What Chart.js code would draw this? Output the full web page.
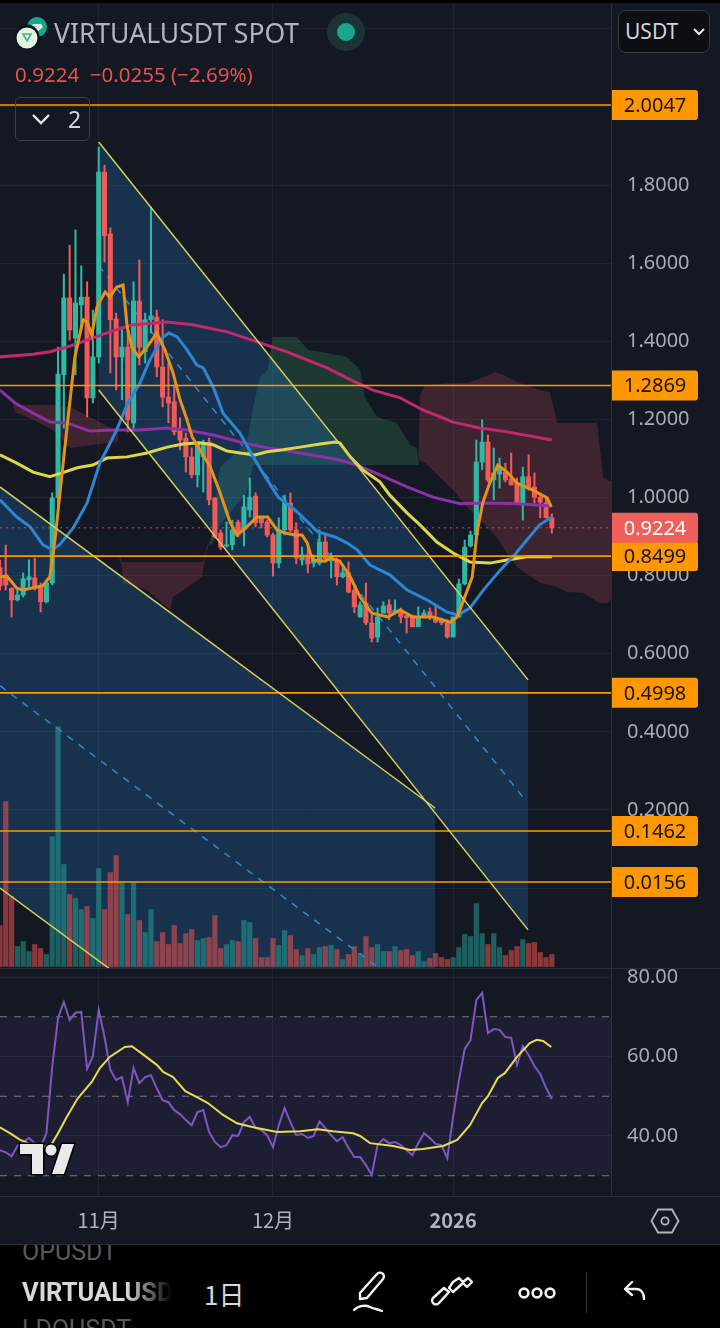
<!DOCTYPE html>
<html>
<head>
<meta charset="utf-8">
<title>VIRTUALUSDT SPOT</title>
<script src="https://cdn.jsdelivr.net/npm/chart.js@4/dist/chart.umd.min.js"></script>
<style>
html,body{margin:0;padding:0;background:#141823;width:720px;height:1328px;overflow:hidden;font-family:"Noto Sans",sans-serif}
canvas{position:absolute;left:0}
#mainCanvas{top:0}
#rsiCanvas{top:968px}
.abs{position:absolute;white-space:nowrap}
#topStrip{left:0;top:0;width:720px;height:3px;background:#000}
#title{left:54px;top:14px;font-size:26.5px;line-height:38px;color:#b2b5be}
#quote{left:15px;top:60px;font-size:20.5px;line-height:28px;color:#e5534f}
#legendBox{left:15px;top:97px;width:73px;height:42px;border:1px solid #3a3e49;border-radius:5px}
#legendNum{left:68px;top:103px;font-size:23px;line-height:32px;color:#d1d4dc}
#usdtBox{left:618px;top:10px;width:92px;height:43px;background:#0d0e12;border:1.5px solid #363a45;border-radius:8px;box-sizing:border-box}
#usdtText{left:625px;top:16px;font-size:21px;line-height:30px;color:#d1d4dc}
.hline{left:0;width:720px;height:1px;background:#2a2e39}
#toolbar{left:0;top:1245px;width:720px;height:83px;background:#000;overflow:hidden}
#prevSym{left:22px;top:-8px;font-size:25px;line-height:30px;color:#5a5a5a;font-family:Roboto,sans-serif}
#curSym{left:22px;top:31px;width:150px;overflow:hidden;font-size:25.5px;line-height:32px;font-weight:700;color:#d8d8d8;font-family:Roboto,sans-serif;-webkit-mask-image:linear-gradient(90deg,#000 70%,transparent 100%);mask-image:linear-gradient(90deg,#000 70%,transparent 100%)}
#nextSym{left:22px;top:70px;font-size:25px;line-height:30px;color:#5a5a5a;font-family:Roboto,sans-serif}
#interval{left:204px;top:31px;font-size:26px;line-height:36px;color:#d8d8d8;font-family:"Noto Sans CJK SC",sans-serif}
</style>
</head>
<body>
<canvas id="mainCanvas" width="720" height="968"></canvas>
<canvas id="rsiCanvas" width="720" height="277"></canvas>

<div class="abs" id="topStrip"></div>
<svg class="abs" style="left:12px;top:14px" width="40" height="40">
  <circle cx="25" cy="13" r="10" fill="#17a78e"/>
  <path d="M21 10h8l2 3-6 5-6-5z" fill="#d9f3ea"/>
  <circle cx="15" cy="23" r="12.5" fill="#10131b"/>
  <circle cx="15" cy="24" r="10.5" fill="#dff5df"/>
  <path d="M11 20h8l-4 7z" fill="none" stroke="#4fae8e" stroke-width="1.6"/>
</svg>
<div class="abs" id="title">VIRTUALUSDT SPOT</div>
<svg class="abs" style="left:327px;top:13px" width="38" height="38">
  <circle cx="19" cy="19" r="19" fill="#1c3336"/>
  <circle cx="19" cy="19" r="9" fill="#17a78e"/>
</svg>
<div class="abs" id="quote">0.9224&nbsp; −0.0255 (−2.69%)</div>
<div class="abs" id="legendBox"></div>
<svg class="abs" style="left:30px;top:112px" width="24" height="16">
  <path d="M3 3l8 8 8-8" fill="none" stroke="#e6e8ee" stroke-width="2.4"/>
</svg>
<div class="abs" id="legendNum">2</div>
<div class="abs" id="usdtBox"></div>
<div class="abs" id="usdtText">USDT</div>
<svg class="abs" style="left:692px;top:26px" width="14" height="12">
  <path d="M2 3l5 5 5-5" fill="none" stroke="#e6e8ee" stroke-width="2"/>
</svg>

<svg class="abs" style="left:16px;top:1139px" width="64" height="38">
  <g fill="#e9e9e9" stroke="#000" stroke-width="3" paint-order="stroke">
    <path d="M4 5h23v30h-11v-20h-12z"/>
    <circle cx="35" cy="11" r="5.5"/>
    <path d="M46 5h12l-10 30h-12z"/>
  </g>
</svg>

<div class="abs hline" style="top:968px"></div>
<div class="abs hline" style="top:1196px"></div>
<div class="abs hline" style="top:1244px;background:#2c2f38"></div>
<svg class="abs" style="left:650px;top:1207px" width="30" height="28">
  <path d="M8 2.5h14l6.5 11.5-6.5 11.5h-14l-6.5-11.5z" fill="none" stroke="#b2b5be" stroke-width="1.8"/>
  <circle cx="15" cy="14" r="3.6" fill="none" stroke="#b2b5be" stroke-width="1.8"/>
</svg>

<div class="abs" id="toolbar">
  <div class="abs" id="prevSym">OPUSDT</div>
  <div class="abs" id="curSym">VIRTUALUSDT</div>
  <div class="abs" id="nextSym">LDOUSDT</div>
  <div class="abs" id="interval">1日</div>
  <svg class="abs" style="left:350px;top:24px" width="40" height="46">
    <g fill="none" stroke="#f2f2f2" stroke-width="2.4" stroke-linejoin="round" stroke-linecap="round">
      <path d="M10 24L27 5a3.5 3.5 0 0 1 6 5L17 29l-7 1z"/>
      <path d="M4 41c5-5 12-5 16-3 5 2 10 3 12 4"/>
    </g>
  </svg>
  <svg class="abs" style="left:431px;top:30px" width="44" height="34">
    <g fill="none" stroke="#f2f2f2" stroke-width="2.4" stroke-linejoin="round" stroke-linecap="round">
      <path d="M2 23l11-10 5 4-10 11a3 3 0 0 1-6-5z"/>
      <path d="M18 13l4 4 10-9 4 4 5-5-4-4-5 4-4-4-6 4z"/>
    </g>
  </svg>
  <svg class="abs" style="left:517px;top:38px" width="40" height="20">
    <g fill="none" stroke="#f2f2f2" stroke-width="2.6">
      <circle cx="7" cy="10" r="4.4"/><circle cx="20" cy="10" r="4.4"/><circle cx="33" cy="10" r="4.4"/>
    </g>
  </svg>
  <div class="abs" style="left:586px;top:27px;width:1px;height:41px;background:#333"></div>
  <svg class="abs" style="left:622px;top:34px" width="28" height="26">
    <path d="M10 3L3 10l7 6M3 10h11c5 0 8 4 8 10" fill="none" stroke="#f2f2f2" stroke-width="2.4" stroke-linecap="round" stroke-linejoin="round"/>
  </svg>
</div>

<script>
// day 0 = 1 Nov
const firstDay = -17;
const opens = [.820,.797,.768,.738,.750,.789,.794,.771,.733,.781,.999,1.314,1.511,1.408,1.493,1.513,1.255,1.360,1.833,1.675,1.457,1.360,1.385,1.191,1.503,1.373,1.455,1.462,1.334,1.257,1.245,1.173,1.152,1.104,1.058,1.104,1.142,.999,.909,.876,.879,.937,.917,.968,1.004,.950,.937,.904,.832,.917,.986,.917,.840,.853,.832,.832,.886,.838,.840,.797,.807,.763,.694,.730,.679,.643,.704,.725,.704,.712,.697,.697,.669,.694,.707,.694,.689,.679,.643,.694,.779,.876,.904,1.091,1.142,1.045,1.060,1.065,1.047,1.037,.986,1.053,1.027,1.001,.986,.9479];
const highs = [.840,.878,.768,.768,.807,.840,.845,.781,.789,1.012,1.385,1.572,1.646,1.685,1.593,1.552,1.480,1.897,1.851,1.690,1.472,1.437,1.442,1.552,1.608,1.472,1.744,1.480,1.455,1.344,1.288,1.204,1.165,1.127,1.140,1.147,1.152,1.000,.917,.937,.942,.942,1.006,1.050,1.012,.950,.942,.909,.948,1.006,1.012,.935,.873,.878,.853,.917,.909,.858,.845,.820,.835,.771,.733,.781,.699,.717,.733,.738,.738,.717,.704,.699,.720,.712,.717,.725,.692,.687,.694,.791,.891,.914,1.147,1.199,1.160,1.127,1.101,1.088,1.114,1.050,1.078,1.109,1.063,1.006,.999,.958];
const lows = [.763,.763,.694,.735,.745,.771,.763,.707,.730,.776,.973,1.178,1.403,1.314,1.429,1.206,1.242,1.344,1.603,1.319,1.275,1.250,1.168,1.173,1.339,1.344,1.421,1.309,1.232,1.191,1.160,1.122,1.065,1.050,1.027,1.014,.981,.896,.866,.873,.866,.899,.876,.950,.925,.922,.899,.799,.820,.904,.912,.830,.827,.807,.822,.827,.835,.794,.776,.794,.756,.705,.694,.674,.630,.630,.704,.687,.704,.679,.653,.669,.669,.694,.687,.679,.674,.640,.643,.694,.776,.873,.899,1.071,1.040,.994,1.024,1.040,1.032,.986,.942,1.019,.986,.948,.948,.909];
const closes = [.774,.776,.738,.750,.792,.797,.768,.733,.781,.999,1.316,1.511,1.429,1.498,1.513,1.255,1.360,1.833,1.670,1.455,1.360,1.385,1.199,1.503,1.385,1.455,1.465,1.334,1.257,1.242,1.168,1.147,1.104,1.058,1.140,1.140,.994,.899,.873,.879,.917,.904,.976,1.001,.935,.935,.904,.832,.917,.986,.917,.845,.853,.830,.840,.886,.843,.850,.797,.807,.758,.720,.725,.679,.640,.694,.722,.704,.712,.694,.692,.669,.692,.704,.694,.681,.679,.643,.694,.779,.873,.904,1.091,1.142,1.045,1.063,1.078,1.045,1.032,.986,1.053,1.024,1.001,.988,.948,.9224];
const volumes = [4.1,16.5,7.0,2.0,2.5,1.5,2.2,1.8,1.2,13,24,10.2,7.2,6.8,5.7,6,4.8,9.8,5.7,9.4,11.1,8.5,5.2,8.4,4.6,3.4,5.7,2.5,3.4,2.2,4.1,2.3,3.3,3.7,2.6,2.8,2.9,5.1,1.8,2.2,2.6,2.5,4.6,4.4,2.8,.9,.9,2.8,2.1,3.6,3.1,1.7,1.1,1.8,1.2,1.9,2,2.1,1.7,.7,1.2,2,1.3,3,1.9,2.2,1.5,1.5,2,1.6,1.7,1.1,1.5,.5,.8,1.3,.9,.7,.9,1.9,3.2,3,6.3,3.3,2.2,3.3,1.9,1.1,1.6,2,2.7,2.3,2.4,1.4,.9,1.2];
const rsiValues = [36.4,35.9,34.9,37.5,38.5,39.5,38.2,37.2,40.7,57.4,69.7,73.7,69.2,71,71.2,56.9,60.1,71.7,64.9,56.6,54.1,54.8,48.5,57.1,53.3,54.8,55.3,52,49,48.5,46.5,45.5,44,42.7,46,46.5,41,38.5,37.2,37.7,40.2,40,43.5,44.8,42,41.5,40.2,37.2,42.7,47,43.5,40.2,40.5,39.5,40,43.7,42,40.2,38.7,39.7,37,34.7,34.7,32.7,30.2,37.7,39.2,38.2,38.5,37.7,36.4,35.2,38.2,40.7,39.5,38,37.7,34.4,44.8,54,61.9,64.1,74.2,76,65.9,66.9,66.7,64.9,64.7,57.9,62.6,60.4,57.6,55.6,52.1,49.3];

const orangeDays = [-17,-15.8,-14.1,-13,-9.6,-8.4,-7.5,-5.5,-4.1,-2.7,-2,-1.2,-.3,1.1,1.9,3.1,4.2,4.9,5.7,6.9,8.3,10,11.4,12.8,14,15.2,16.1,17.4,19.2,20.9,22.6,23.8,25.5,27.2,29.1,30.7,32.1,33.8,35,35.9,36.4,36.9,39,39.8,41.5,43.3,45,47,49.8,51.9,54.1,57.5,60.5,61.7,63,64.3,65.1,66.1,67.3,68.7,70.3,72,74.7,77.2,77.9];
const orangeLine = [.797,.799,.768,.763,.774,.797,.896,1.173,1.360,1.455,1.450,1.416,1.488,1.526,1.513,1.539,1.544,1.437,1.385,1.360,1.385,1.421,1.378,1.319,1.250,1.199,1.155,1.122,1.078,1.012,.937,.904,.925,.950,.950,.917,.909,.904,.904,.884,.858,.840,.837,.845,.837,.797,.745,.704,.694,.712,.694,.694,.681,.694,.745,.797,.909,.986,1.037,1.083,1.065,1.037,1.019,.999,.976];
const blueDays = [-17,-14.1,-11.8,-9.6,-8,-6.7,-4.4,-2,.2,3.1,5,7.1,8.8,11.1,12.1,13.5,15.2,16.9,18,19.7,21.4,24.3,26.6,29,30.9,33.8,36,37.7,40.7,42.7,44.5,46.7,50.1,53.1,56.5,59.9,61.8,63.9,66.2,69.1,71.3,73.7,75.9,78];
const blueLine = [.994,.950,.925,.879,.866,.879,.922,.986,1.088,1.173,1.242,1.293,1.352,1.411,1.421,1.411,1.378,1.339,1.332,1.283,1.216,1.165,1.104,1.045,1.001,.968,.937,.912,.899,.884,.866,.827,.802,.763,.738,.707,.699,.717,.763,.814,.848,.891,.930,.950];
const yellowDays = [-17,-14.1,-11.3,-8.4,-6.3,-3.7,-1,1.4,4.9,8.3,11.8,14.5,17.4,19.7,22.1,24.3,26.9,29,31.7,34.7,38.1,40.7,41.5,43.3,45.5,48.4,50.1,53.1,55.3,58.2,61,63.9,67.3,70.3,73.7,78];
const yellowLine = [1.109,1.088,1.065,1.053,1.063,1.076,1.083,1.101,1.104,1.114,1.129,1.137,1.140,1.135,1.119,1.114,1.109,1.117,1.122,1.129,1.137,1.142,1.140,1.104,1.070,1.040,1.006,.960,.930,.886,.858,.835,.832,.840,.848,.848];
const purpleDays = [-17,-14.4,-11.3,-8.4,-5.5,-1.5,2.5,7.1,11.8,15.2,19.7,24.3,29,34.7,41.5,44.5,48.4,53.1,57.5,62.2,66.8,72,78];
const purpleLine = [1.275,1.242,1.216,1.193,1.191,1.170,1.173,1.173,1.178,1.173,1.160,1.142,1.127,1.114,1.096,1.083,1.058,1.027,1.001,.984,.986,.984,.978];
const pinkDays = [-17,-11.3,-8.4,-5.5,-2,1.9,5.9,11.8,16.2,22.1,27.8,32.4,39.3,43.8,47.2,51.9,55.8,61,65.6,70.3,78];
const pinkLine = [1.360,1.367,1.373,1.385,1.403,1.424,1.442,1.449,1.442,1.424,1.396,1.373,1.332,1.298,1.275,1.255,1.224,1.193,1.178,1.168,1.147];

const cloudDays = [-14.75,-14.4,-11.3,-7.9,-4.9,2.8,3.3,3.6,4.0,4.2,8.3,12.3,12.8,17.8,18.3,18.6,19.5,20.9,25.5,26.6,27.8,29.1,30,34.1,36,39.3,42.7,45,45.8,47.9,51.3,53.6,54.8,55,55.3,56.2,61,63.4,66.8,68.2,69.6,72,75.9,77.7,78.9,80.6,83.4,85.8,86.3,86.8,87.5,88.4];
const spanA = [1.242,1.219,1.199,1.173,1.127,1.142,1.142,.840,.820,.781,.763,.712,.745,.797,.845,.861,.909,1.078,1.140,1.232,1.309,1.327,1.411,1.411,1.378,1.370,1.360,1.327,1.257,1.206,1.191,1.135,1.127,1.083,1.096,1.088,1.019,.976,.925,.904,.873,.822,.782,.776,.771,.758,.756,.733,.730,.730,.730,.743];
const spanB = [1.242,1.237,1.237,1.237,1.232,1.173,1.168,.853,.835,.835,.835,.835,.835,.835,.845,.879,.879,.930,1.014,1.083,1.083,1.083,1.083,1.083,1.083,1.083,1.083,1.083,1.083,1.083,1.083,1.083,1.083,1.083,1.263,1.288,1.293,1.293,1.311,1.321,1.314,1.296,1.275,1.268,1.191,1.191,1.191,1.191,1.122,1.053,1.045,1.040];

const channelDays = [0, 73.9];
const channelTop = [1.910, .533];
const channelBottom = [1.275, -.107];
const channelMidDays = [0, 73.4];
const channelMid = [1.593, .226];
const wedgeDays = [-17, 57.9];
const wedgeTop = [1.027, .205];
const wedgeBottom = [0, -.821];
const wedgeMid = [.518, -.312];

const levels = [2.0047, 1.2869, .8499, .4998, .1462, .0156];
const lastPrice = .9224;
const priceTicks = [0, .2, .4, .6, .8, 1, 1.2, 1.4, 1.6, 1.8, 2, 2.2];

const rsiMaDays = [-17,-15.3,-13.5,-11.3,-8.4,-7,-5.5,-3.6,-1.2,.2,1.9,4.5,5.7,7.1,10,11.1,12.8,14.9,16.9,18.8,21.4,23.8,26.6,30.7,34.7,37.7,40.3,43.8,45,46.7,50.7,53.6,55.8,59.3,61.7,63.9,66,67,68.7,69.9,72,74.2,75.4,76.5,77.9];
const rsiMa = [42.2,40.7,39,37.7,37.2,40.7,44.8,49.5,53.6,57.1,59.9,62.4,62.6,61.1,57.9,56.1,54.8,51.3,49.8,48.3,45.3,43.2,42.2,41,41.2,41.7,41.2,40.7,40,38.2,37.5,36.5,36.7,37.5,39,42.7,48.3,50,54.6,55.8,59.9,63.4,64.2,63.9,62.4];
const rsiLevels = [70, 50, 30];
const rsiTicks = [40, 60, 80];

const xTickDays = [0, 30, 61];
const xTickLabels = ['11月', '12月', '2026'];

const xMin = -16.99, xMax = 88.18;
const upColor = '#2fb8a4', downColor = '#f05a57';
const upVol = 'rgba(38,166,154,0.5)', downVol = 'rgba(239,83,80,0.55)';
const gridColor = 'rgba(255,255,255,0.055)';
const tagOrange = '#ff9800';

const days = opens.map((_, i) => firstDay + i);
const isUp = opens.map((o, i) => closes[i] >= o);
const pts = (xs, ys) => xs.map((x, i) => ({ x: x, y: ys[i] }));

function lineSet(xs, ys, color, width, order, extra) {
    return Object.assign({
        type: 'line', data: pts(xs, ys), borderColor: color, borderWidth: width,
        pointRadius: 0, tension: 0, fill: false, order: order, yAxisID: 'y'
    }, extra || {});
}

function fixPadding(scale) {
    scale.paddingTop = 0; scale.paddingBottom = 0;
    scale.paddingLeft = 0; scale.paddingRight = 0;
}

// the boxes on the price scale, over the tick labels
const priceTags = {
    id: 'priceTags',
    afterDraw(chart) {
        const ctx = chart.ctx, y = chart.scales.y;
        const tag = (v, bg, fg) => {
            const py = y.getPixelForValue(v);
            ctx.fillStyle = bg;
            ctx.beginPath();
            ctx.roundRect(612, py - 15, 86, 30, [0, 3, 3, 0]);
            ctx.fill();
            ctx.fillStyle = fg;
            ctx.font = '20px "Noto Sans"';
            ctx.textAlign = 'center';
            ctx.textBaseline = 'middle';
            ctx.fillText(v.toFixed(4), 655, py + 1);
        };
        levels.forEach(v => tag(v, tagOrange, '#1a1308'));
        tag(lastPrice, '#f0605a', '#ffffff');
    }
};

const flat = (v) => lineSet([xMin, xMax], [v, v], tagOrange, 1.6, 5);

new Chart(document.getElementById('mainCanvas'), {
    type: 'bar',
    data: {
        datasets: [
            // ichimoku cloud
            lineSet(cloudDays, spanA, 'transparent', 0, 100, {
                fill: { target: '+1', above: 'rgba(57,137,88,0.3)', below: 'rgba(163,67,78,0.3)' }
            }),
            lineSet(cloudDays, spanB, 'transparent', 0, 100),
            // channel fills
            lineSet(channelDays, channelTop, 'transparent', 0, 90, { fill: '+1', backgroundColor: 'rgba(36,128,207,0.25)' }),
            lineSet(channelDays, channelBottom, 'transparent', 0, 90),
            lineSet(wedgeDays, wedgeTop, 'transparent', 0, 90, { fill: '+1', backgroundColor: 'rgba(36,128,207,0.25)' }),
            lineSet(wedgeDays, wedgeBottom, 'transparent', 0, 90),
            // volume
            {
                type: 'bar', data: pts(days, volumes), yAxisID: 'yVol', grouped: false, barThickness: 4.6,
                backgroundColor: isUp.map(u => u ? upVol : downVol), order: 80
            },
            lineSet(channelMidDays, channelMid, '#2f86c4', 1.6, 70, { borderDash: [7, 7] }),
            lineSet(wedgeDays, wedgeMid, '#2f86c4', 1.6, 70, { borderDash: [7, 7] }),
            // candles
            {
                type: 'bar', data: days.map((d, i) => ({ x: d, y: [lows[i], highs[i]] })), yAxisID: 'y', grouped: false, barThickness: 1.4,
                backgroundColor: isUp.map(u => u ? upColor : downColor), order: 60
            },
            {
                type: 'bar', data: days.map((d, i) => ({ x: d, y: [opens[i], closes[i]] })), yAxisID: 'y', grouped: false, barThickness: 4.4,
                backgroundColor: isUp.map(u => u ? upColor : downColor), order: 59
            },
            lineSet(pinkDays, pinkLine, '#c4286e', 3, 40),
            lineSet(purpleDays, purpleLine, '#8e30a6', 3, 39),
            lineSet(yellowDays, yellowLine, '#ddd54a', 3, 38),
            lineSet(blueDays, blueLine, '#2d86d2', 3, 37),
            lineSet(orangeDays, orangeLine, '#e5921a', 3, 36),
            lineSet([xMin, xMax], [lastPrice, lastPrice], 'rgba(240,96,90,0.75)', 1, 30, { borderDash: [2, 4] }),
            flat(levels[0]), flat(levels[1]), flat(levels[2]), flat(levels[3]), flat(levels[4]), flat(levels[5]),
            lineSet(channelDays, channelTop, '#d8cf5a', 1.5, 4),
            lineSet(channelDays, channelBottom, '#d8cf5a', 1.5, 4),
            lineSet(wedgeDays, wedgeTop, '#d8cf5a', 1.5, 4),
            lineSet(wedgeDays, wedgeBottom, '#d8cf5a', 1.5, 4)
        ]
    },
    options: {
        responsive: false, animation: false, layout: { padding: 0 },
        plugins: { legend: { display: false }, tooltip: { enabled: false } },
        scales: {
            x: {
                type: 'linear', min: xMin, max: xMax, offset: false,
                grid: { color: gridColor, drawTicks: false, offset: false }, border: { display: false },
                ticks: { display: false },
                afterBuildTicks: s => { s.ticks = xTickDays.map(v => ({ value: v })); },
                afterFit: s => { s.height = 0; fixPadding(s); }
            },
            y: {
                position: 'right', min: -.2046, max: 2.2737,
                grid: { color: gridColor, drawTicks: false }, border: { color: '#2a2e39' },
                ticks: { color: '#a9acb6', padding: 16, font: { family: 'Noto Sans', size: 20 }, callback: v => v.toFixed(4) },
                afterBuildTicks: s => { s.ticks = priceTicks.map(v => ({ value: v })); },
                afterFit: s => { s.width = 109; fixPadding(s); }
            },
            yVol: { display: false, min: -.15, max: 96.65 }
        }
    },
    plugins: [priceTags]
});

new Chart(document.getElementById('rsiCanvas'), {
    type: 'line',
    data: {
        datasets: [
            lineSet([xMin, xMax], [rsiLevels[0], rsiLevels[0]], '#7a7d88', 1, 9, { borderDash: [7, 7], fill: { target: 2 }, backgroundColor: 'rgba(126,87,194,0.1)' }),
            lineSet([xMin, xMax], [rsiLevels[1], rsiLevels[1]], '#7a7d88', 1, 9, { borderDash: [7, 7] }),
            lineSet([xMin, xMax], [rsiLevels[2], rsiLevels[2]], '#7a7d88', 1, 9, { borderDash: [7, 7] }),
            lineSet(days, rsiValues, '#7e57c2', 2, 3),
            lineSet(rsiMaDays, rsiMa, '#e8dc50', 2, 2)
        ]
    },
    options: {
        responsive: false, animation: false, layout: { padding: 0 },
        plugins: { legend: { display: false }, tooltip: { enabled: false } },
        scales: {
            x: {
                type: 'linear', min: xMin, max: xMax,
                grid: { color: gridColor, drawTicks: false }, border: { display: false },
                ticks: {
                    color: '#b2b5be', padding: 12, autoSkip: false, maxRotation: 0,
                    font: c => ({ family: 'Noto Sans CJK SC', size: 20, weight: c.tick && c.tick.value === 61 ? 'bold' : 'normal' }),
                    callback: v => xTickLabels[xTickDays.indexOf(v)]
                },
                afterBuildTicks: s => { s.ticks = xTickDays.map(v => ({ value: v })); },
                afterFit: s => { s.height = 49; fixPadding(s); }
            },
            y: {
                position: 'right', min: 24.9, max: 82.27,
                grid: { color: gridColor, drawTicks: false }, border: { color: '#2a2e39' },
                ticks: { color: '#a9acb6', padding: 16, font: { family: 'Noto Sans', size: 20 }, callback: v => v.toFixed(2) },
                afterBuildTicks: s => { s.ticks = rsiTicks.map(v => ({ value: v })); },
                afterFit: s => { s.width = 109; fixPadding(s); }
            }
        }
    }
});
</script>
</body>
</html>
